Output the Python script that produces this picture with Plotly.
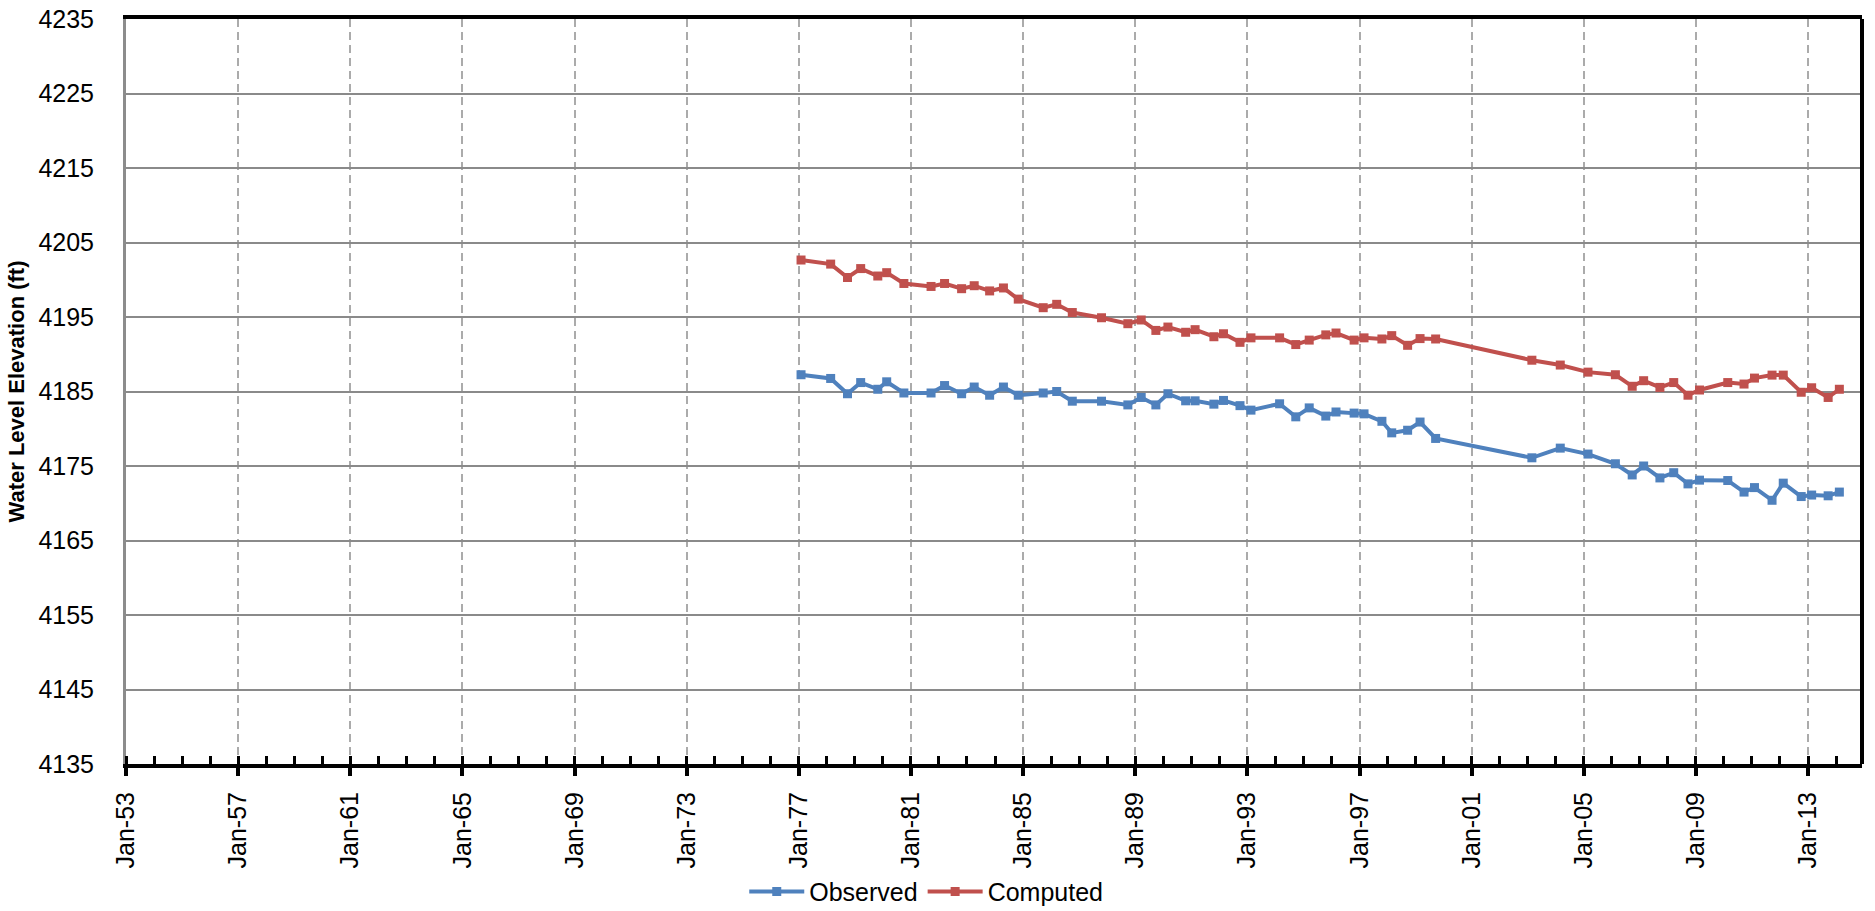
import plotly.graph_objects as go

dates = [
    "1977-01-30", "1978-02-20", "1978-09-27", "1979-03-18", "1979-10-27",
    "1980-02-20", "1980-10-01", "1981-09-20", "1982-03-15", "1982-10-23",
    "1983-04-05", "1983-10-23", "1984-04-20", "1984-10-30", "1985-09-20",
    "1986-03-15", "1986-10-04", "1987-10-20", "1988-09-27", "1989-03-20",
    "1989-09-27", "1990-03-03", "1990-10-20", "1991-02-20", "1991-10-23",
    "1992-02-25", "1992-09-27", "1993-02-17", "1994-02-25", "1994-09-24",
    "1995-03-18", "1995-10-20", "1996-03-01", "1996-10-23", "1997-03-01",
    "1997-10-20", "1998-02-25", "1998-09-20", "1999-03-01", "1999-09-20",
    "2003-02-25", "2004-03-01", "2005-02-25", "2006-02-17", "2006-09-24",
    "2007-02-20", "2007-09-20", "2008-03-18", "2008-09-20", "2009-02-17",
    "2010-02-20", "2010-09-20", "2011-02-03", "2011-09-20", "2012-02-13",
    "2012-10-04", "2013-02-17", "2013-09-20", "2014-02-13",
]

observed = [
    4187.25, 4186.75, 4184.7, 4186.2, 4185.3,
    4186.3, 4184.8, 4184.8, 4185.8, 4184.7,
    4185.6, 4184.5, 4185.6, 4184.5, 4184.8,
    4185.0, 4183.7, 4183.7, 4183.2, 4184.2,
    4183.2, 4184.7, 4183.75, 4183.75, 4183.3,
    4183.8, 4183.1, 4182.5, 4183.35, 4181.6,
    4182.8, 4181.7, 4182.25, 4182.1, 4182.0,
    4181.0, 4179.45, 4179.8, 4180.9, 4178.7,
    4176.1, 4177.4, 4176.6, 4175.3, 4173.8,
    4175.0, 4173.4, 4174.1, 4172.6, 4173.1,
    4173.05, 4171.5, 4172.1, 4170.4, 4172.7,
    4170.9, 4171.1, 4171.0, 4171.5,
]

computed = [
    4202.65, 4202.1, 4200.3, 4201.5, 4200.5,
    4200.95, 4199.5, 4199.1, 4199.5, 4198.8,
    4199.2, 4198.5, 4198.9, 4197.4, 4196.25,
    4196.7, 4195.6, 4194.9, 4194.1, 4194.6,
    4193.2, 4193.65, 4192.95, 4193.3, 4192.35,
    4192.75, 4191.6, 4192.2, 4192.2, 4191.3,
    4191.9, 4192.6, 4192.85, 4191.9, 4192.2,
    4192.05, 4192.5, 4191.2, 4192.1, 4192.05,
    4189.2, 4188.55, 4187.6, 4187.25, 4185.7,
    4186.45, 4185.55, 4186.2, 4184.5, 4185.2,
    4186.2, 4186.0, 4186.8, 4187.2, 4187.2,
    4184.9, 4185.5, 4184.2, 4185.3,
]

series_names = ["Observed", "Computed"]
series_colors = ["#4F81BD", "#C0504D"]

FONT = "Liberation Sans, Arial, sans-serif"

fig = go.Figure()
for name, vals, col in zip(series_names, [observed, computed], series_colors):
    fig.add_trace(go.Scatter(
        x=dates, y=vals, name=name, mode="lines+markers",
        line=dict(color=col, width=4),
        marker=dict(symbol="square", size=9, color=col),
    ))

fig.update_layout(
    width=1875, height=911,
    margin=dict(l=126, r=13, t=19, b=147, autoexpand=False),
    paper_bgcolor="white", plot_bgcolor="white",
    font=dict(family=FONT, size=25, color="black"),
    showlegend=True,
    legend=dict(
        orientation="h", xref="container", yref="container",
        x=0.494, xanchor="center", y=0.021, yanchor="middle",
        font=dict(family=FONT, size=25, color="black"),
        itemwidth=55, traceorder="normal",
    ),
    xaxis=dict(
        type="date",
        range=["1953-01-01", "2014-12-05"],
        tick0="1953-01-01", dtick="M48",
        tickformat="%b-%y", tickangle=-90,
        showgrid=True, gridcolor="#ababab", gridwidth=2, griddash="8px,5px",
        showline=True, linecolor="black", linewidth=4, mirror=True,
        ticks="outside", ticklen=8, tickwidth=4, tickcolor="black",
        minor=dict(dtick="M12", tick0="1953-01-01", ticks="inside",
                   ticklen=8, tickwidth=3, tickcolor="black", showgrid=False),
        ticklabelstandoff=6,
        tickfont=dict(family=FONT, size=25, color="black"),
        zeroline=False,
    ),
    yaxis=dict(
        range=[4135, 4235], tick0=4135, dtick=10,
        showgrid=True, gridcolor="#8a8a8a", gridwidth=2,
        showline=True, linecolor="#8c8c8c", linewidth=3, mirror=False,
        ticks="", ticklabelstandoff=24,
        tickfont=dict(family=FONT, size=25, color="black"),
        title=dict(text="<b>Water Level Elevation (ft)</b>", standoff=8,
                   font=dict(family=FONT, size=22, color="black")),
        zeroline=False,
    ),
    shapes=[dict(type="line", xref="paper", yref="paper", x0=1, x1=1, y0=0, y1=1,
                 line=dict(color="black", width=4))],
)

fig.write_html(
    "out.html",
    config={"displayModeBar": False},
    post_script="document.body.style.margin='0';document.body.style.overflow='hidden';",
)
